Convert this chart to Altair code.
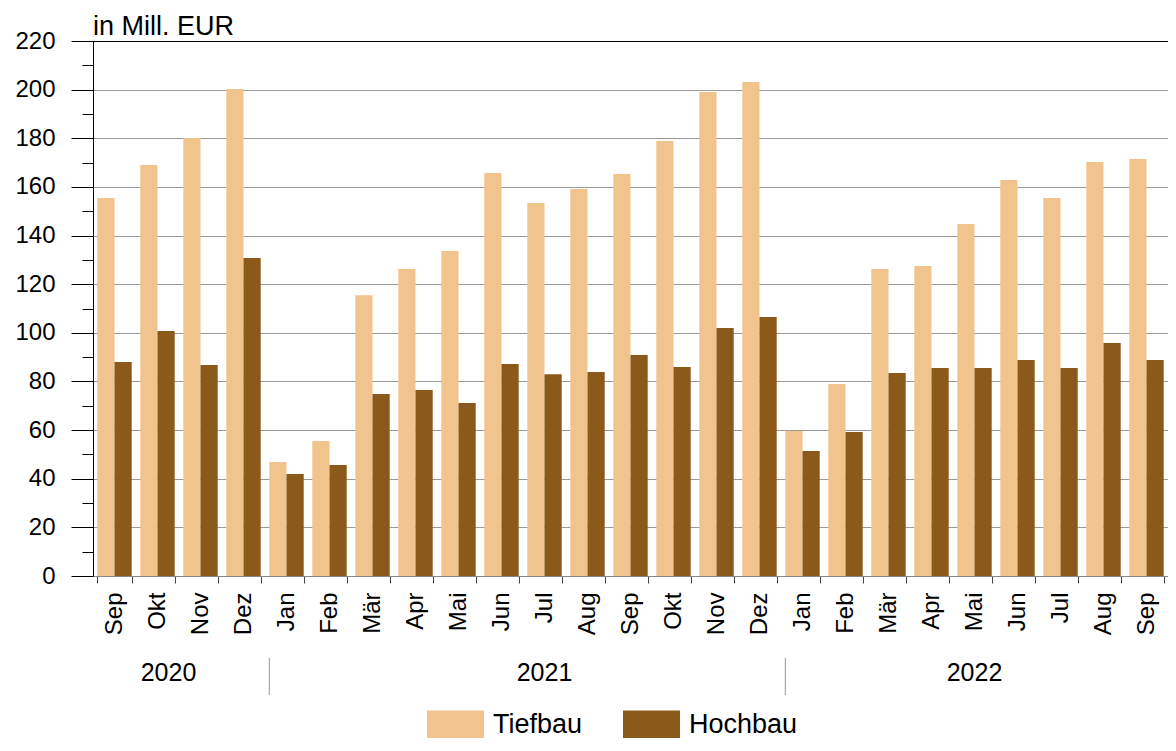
import altair as alt
import pandas as pd

# ---- data ----
months = ["Sep", "Okt", "Nov", "Dez",
          "Jan", "Feb", "Mär", "Apr", "Mai", "Jun", "Jul", "Aug", "Sep", "Okt", "Nov", "Dez",
          "Jan", "Feb", "Mär", "Apr", "Mai", "Jun", "Jul", "Aug", "Sep"]
years = [2020] * 4 + [2021] * 12 + [2022] * 9
tiefbau = [155.4, 169.0, 180.1, 200.3,
           46.9, 55.5, 115.5, 126.2, 133.6, 165.7, 153.4, 159.1, 165.3, 178.9, 199.0, 203.1,
           59.6, 79.0, 126.2, 127.5, 144.7, 162.8, 155.4, 170.2, 171.5]
hochbau = [88.0, 100.7, 86.8, 130.8,
           41.9, 45.6, 74.8, 76.5, 71.1, 87.2, 83.0, 83.9, 90.9, 85.9, 102.0, 106.5,
           51.4, 59.2, 83.5, 85.5, 85.5, 88.8, 85.5, 95.8, 88.8]
series = ["Tiefbau", "Hochbau"]
colors = ["#F2C48D", "#8B5A1B"]

year_labels_center = ["2021", "2022"]
year_anchor_center = ["2021-Jul", "2022-Mai"]
year_label_first = ["2020"]
year_anchor_first = ["2020-Okt"]
separator_keys = ["2021-Jan", "2022-Jan"]
unit_label = ["in Mill. EUR"]

FONT = "Liberation Sans"

keys = [f"{y}-{m}" for y, m in zip(years, months)]
rows = []
for k, t, h in zip(keys, tiefbau, hochbau):
    rows.append({"key": k, "series": "Tiefbau", "value": t})
    rows.append({"key": k, "series": "Hochbau", "value": h})
df = pd.DataFrame(rows)

xscale = alt.Scale(domain=keys, paddingInner=0.2, paddingOuter=0.1)

major = "datum.value % 20 === 0"

bars = alt.Chart(df).mark_bar().encode(
    x=alt.X("key:N", scale=xscale, title=None,
            axis=alt.Axis(labelExpr="split(datum.value, '-')[1]", labelAngle=270,
                          tickBand="extent", labelFontSize=24, labelFont=FONT,
                          labelColor="black", domainColor="#888888", tickColor="#444444",
                          tickSize=7, labelPadding=9, labelAlign="right",
                          labelBaseline="middle", grid=False)),
    xOffset=alt.XOffset("series:N", sort=series,
                        scale=alt.Scale(domain=series, paddingInner=0, paddingOuter=0)),
    y=alt.Y("value:Q", scale=alt.Scale(domain=[0, 220], nice=False), title=None,
            axis=alt.Axis(values=list(range(0, 221, 10)),
                          labelExpr=f"{major} ? datum.label : ''",
                          tickSize={"condition": {"test": major, "value": 22}, "value": 11},
                          labelPadding=16, grid=True,
                          gridColor={"condition": {"test": "datum.value === 220", "value": "black"},
                                     "value": "#9a9a9a"},
                          gridOpacity={"condition": {"test": major, "value": 1}, "value": 0},
                          domainColor="black", tickColor="black", labelColor="black",
                          labelFontSize=24, labelFont=FONT)),
    color=alt.Color("series:N", sort=series,
                    scale=alt.Scale(domain=series, range=colors),
                    legend=alt.Legend(orient="none", legendX=334, legendY=655,
                                      direction="horizontal", title=None,
                                      symbolType="M-1,-0.5H1V0.5H-1Z", symbolSize=3249,
                                      symbolStrokeWidth=0, symbolOpacity=1,
                                      labelFontSize=27, labelFont=FONT, labelColor="black",
                                      columnPadding=40, labelOffset=9, padding=0)),
)

yr_center = alt.Chart(pd.DataFrame({"key": year_anchor_center, "label": year_labels_center})).mark_text(
    fontSize=25, font=FONT, color="black", baseline="middle", align="center"
).encode(
    x=alt.X("key:N", scale=xscale, bandPosition=0.5),
    y=alt.value(632),
    text="label:N",
)

yr_first = alt.Chart(pd.DataFrame({"key": year_anchor_first, "label": year_label_first})).mark_text(
    fontSize=25, font=FONT, color="black", baseline="middle", align="center"
).encode(
    x=alt.X("key:N", scale=xscale, bandPosition=0.82),
    y=alt.value(632),
    text="label:N",
)

seps = alt.Chart(pd.DataFrame({"key": separator_keys})).mark_rule(
    color="#999999", strokeWidth=1
).encode(
    x=alt.X("key:N", scale=xscale, bandPosition=0),
    y=alt.value(617),
    y2=alt.value(654),
)

unit = alt.Chart(pd.DataFrame({"t": unit_label})).mark_text(
    fontSize=27, font=FONT, color="black", align="left", baseline="alphabetic"
).encode(
    x=alt.value(0),
    y=alt.value(-6),
    text="t:N",
)

chart = alt.layer(bars, yr_center, yr_first, seps, unit).properties(
    width=1075, height=535,
    autosize=alt.AutoSizeParams(type="none"),
    padding={"left": 85, "top": 33, "right": 0, "bottom": 162},
).configure_view(stroke=None)

chart.save("out.html", embed_options={"renderer": "svg", "actions": False})
